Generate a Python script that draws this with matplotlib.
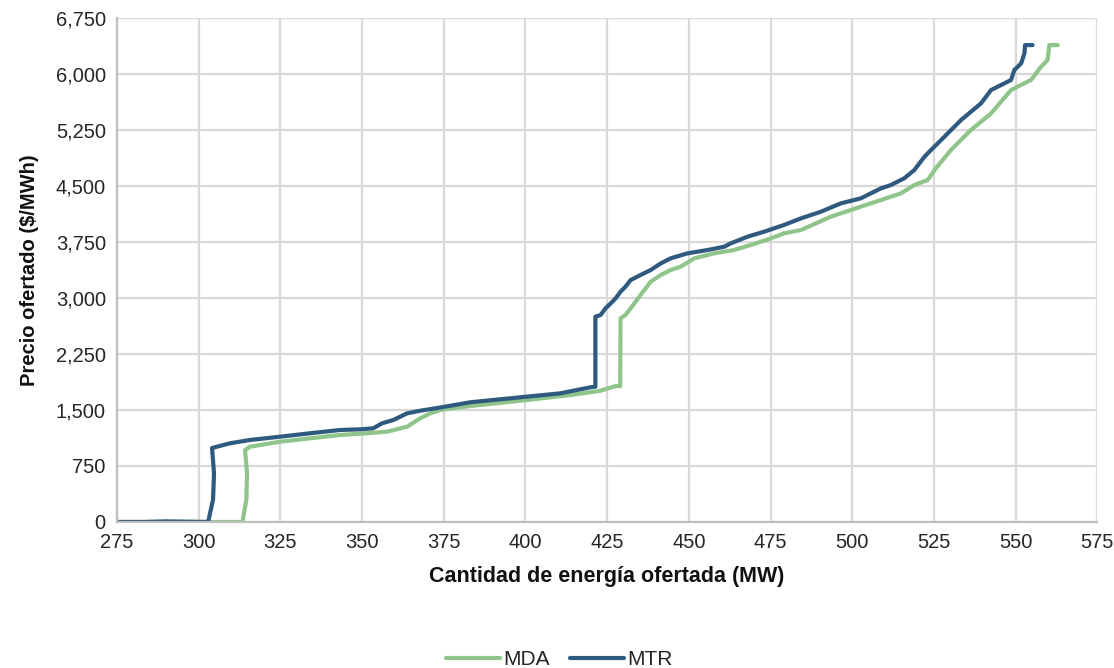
import matplotlib
matplotlib.use("Agg")
import matplotlib.pyplot as plt
from matplotlib.ticker import FuncFormatter

plt.rcParams['font.family'] = ['Liberation Sans', 'DejaVu Sans']

# Data (MW, $/MWh)
mda_x = [275, 285, 300, 313.4, 314.6, 314.8, 314.2, 315.7, 324.9, 334.1, 343.3, 351.4, 357.6,
         363.8, 367.8, 370.9, 373.9, 383.1, 398.5, 413.8, 423.0, 427.6, 429.0, 429.1,
         430.6, 432.2, 433.7, 435.2, 436.8, 438.3, 441.4, 444.4, 447.5, 451.6, 457.7,
         463.8, 468.9, 475.1, 479.1, 484.3, 493.4, 502.6, 508.8, 514.9, 519.0, 523.1,
         525.6, 530.2, 536.3, 542.5, 548.6, 554.7, 557.8, 559.8, 560.3, 562.9]
mda_y = [0, 0, 0, 0, 300, 650, 964, 1008, 1075, 1120, 1165, 1188, 1209,
         1276, 1388, 1455, 1500, 1553, 1624, 1700, 1758, 1821, 1821, 2727,
         2772, 2861, 2950, 3040, 3129, 3218, 3307, 3374, 3419, 3530, 3597,
         3642, 3709, 3798, 3865, 3910, 4088, 4222, 4312, 4401, 4512, 4580,
         4736, 4981, 5249, 5472, 5785, 5919, 6097, 6187, 6387, 6387]

mtr_x = [275, 283, 290, 302.9, 304.4, 304.7, 304.1, 309.6, 315.7, 324.9, 334.1, 343.3,
         349.4, 353.4, 356.1, 359.6, 363.8, 367.8, 373.9, 383.1, 398.5, 410.7, 419.9,
         421.4, 421.4, 423.0, 424.5, 426.1, 427.6, 429.1, 430.6, 432.2, 435.2, 438.3,
         441.4, 444.4, 449.5, 455.7, 460.8, 462.8, 467.9, 473.0, 479.1, 484.3, 490.4,
         496.5, 502.6, 505.7, 508.8, 511.8, 515.9, 519.0, 522.1, 524.1, 527.2, 533.3,
         539.4, 542.5, 548.6, 549.6, 551.7, 552.7, 552.9, 555.2]
mtr_y = [0, 0, 8, 0, 300, 650, 991, 1054, 1098, 1142, 1188, 1232,
         1241, 1254, 1321, 1366, 1455, 1490, 1533, 1603, 1670, 1723, 1804,
         1812, 2749, 2772, 2861, 2928, 2995, 3084, 3151, 3240, 3307, 3374,
         3463, 3530, 3597, 3642, 3686, 3731, 3820, 3887, 3977, 4066, 4155,
         4267, 4334, 4401, 4468, 4512, 4602, 4713, 4891, 4981, 5115, 5383,
         5606, 5785, 5919, 6052, 6142, 6276, 6387, 6387]

x_ticks = list(range(275, 576, 25))
y_ticks = list(range(0, 6751, 750))

mda_color = '#8fc58b'
mtr_color = '#2f5a80'
grid_color = '#d9d9d9'

fig = plt.figure(figsize=(11.14, 6.68), dpi=100)
ax = fig.add_axes([0.105, 0.2186, 0.880, 0.7545])

ax.plot(mda_x, mda_y, color=mda_color, lw=3.0, label='MDA',
        solid_capstyle='round', solid_joinstyle='round')
ax.plot(mtr_x, mtr_y, color=mtr_color, lw=3.0, label='MTR',
        solid_capstyle='round', solid_joinstyle='round')

ax.set_xlim(275, 575)
ax.set_ylim(0, 6750)
ax.set_xticks(x_ticks)
ax.set_yticks(y_ticks)
ax.yaxis.set_major_formatter(FuncFormatter(lambda v, p: f"{int(v):,}"))
ax.grid(True, color=grid_color, lw=1.6)
ax.set_axisbelow(True)
for s in ['top', 'right']:
    ax.spines[s].set_visible(False)
for s in ['left', 'bottom']:
    ax.spines[s].set_color('#bfbfbf')
    ax.spines[s].set_linewidth(1.6)
ax.tick_params(axis='both', length=0, labelsize=14.5, pad=8)
for lab in ax.get_xticklabels() + ax.get_yticklabels():
    lab.set_color('#262626')

ax.set_xlabel('Cantidad de energía ofertada (MW)', fontsize=15.5, fontweight='bold',
              color='#111111', labelpad=10)
ax.set_ylabel('Precio ofertado ($/MWh)', fontsize=14.5, fontweight='bold',
              color='#111111', labelpad=12)

fig.legend(loc='lower center', bbox_to_anchor=(0.502, -0.03), ncol=2, frameon=False,
           fontsize=15, handlelength=2.6, handletextpad=0.15, columnspacing=1.0,
           labelcolor='#262626')

fig.savefig('out.png', dpi=100)
